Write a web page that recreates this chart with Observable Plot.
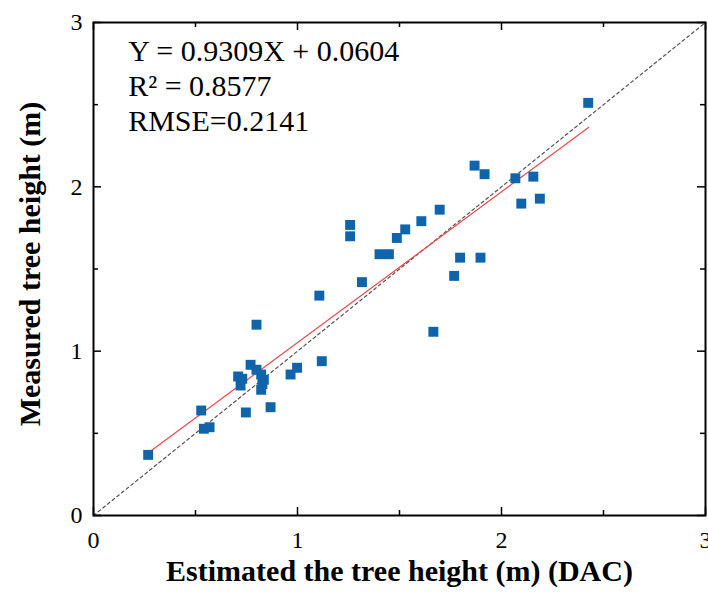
<!DOCTYPE html>
<html>
<head>
<meta charset="utf-8">
<script src="https://cdn.jsdelivr.net/npm/d3@7"></script>
<script src="https://cdn.jsdelivr.net/npm/@observablehq/plot@0.6"></script>
<style>
  html, body { margin: 0; padding: 0; background: #fff; }
  #chart svg { display: block; overflow: visible; }
</style>
</head>
<body>
<div id="chart"></div>
<script>
// Estimated (DAC) tree height, m
const estimated = [0.268, 0.528, 0.541, 0.569, 0.747, 0.868, 0.799, 0.770, 0.709, 0.729, 0.721, 0.799, 0.822, 0.835, 0.822, 0.828, 0.966, 0.998, 1.119, 1.107, 1.258, 1.258, 1.316, 1.402, 1.448, 1.487, 1.528, 1.607, 1.697, 1.666, 1.768, 1.797, 1.897, 1.868, 1.917, 2.068, 2.156, 2.097, 2.188, 2.425];
// Measured tree height, m
const measured  = [0.369, 0.639, 0.528, 0.537, 0.627, 0.659, 1.161, 0.917, 0.846, 0.832, 0.791, 0.887, 0.858, 0.826, 0.765, 0.800, 0.858, 0.899, 0.939, 1.338, 1.768, 1.699, 1.420, 1.590, 1.590, 1.689, 1.741, 1.791, 1.861, 1.118, 1.458, 1.569, 1.569, 2.129, 2.077, 2.052, 2.062, 1.898, 1.928, 2.511];
// Fitted line endpoints as drawn
const fitX = [0.279, 2.428];
const fitY = [0.391, 2.362];
// 1:1 reference line
const oneToOne = [0, 3];
const majorTicks = [0, 1, 2, 3];
const minorTicks = [0.5, 1.5, 2.5];
const statsLines = ["Y = 0.9309X + 0.0604", "R\u00B2 = 0.8577", "RMSE=0.2141"];
const statsY = [2.763, 2.550, 2.337];
const xTitle = "Estimated the tree height (m) (DAC)";
const yTitle = "Measured tree height (m)";

const points = estimated.map((x, i) => ({x, y: measured[i]}));
const fitLine = fitX.map((x, i) => ({x, y: fitY[i]}));
const diag = oneToOne.map(v => ({x: v, y: v}));
const stats = statsLines.map((t, i) => ({t, y: statsY[i]}));

const W = 708, H = 595;
const mL = 93, mR = 3, mT = 22, mB = 80;
const plotW = W - mL - mR, plotH = H - mT - mB;
const major = 8, minor = 5;

const chart = Plot.plot({
  width: W,
  height: H,
  marginLeft: mL,
  marginRight: mR,
  marginTop: mT,
  marginBottom: mB,
  style: {fontFamily: "'Liberation Serif', 'Times New Roman', serif", fontSize: "24px", color: "#000", background: "#fff"},
  x: {domain: [0, 3]},
  y: {domain: [0, 3]},
  marks: [
    Plot.line(diag, {x: "x", y: "y", stroke: "#555", strokeWidth: 1.2, strokeDasharray: "3,3"}),
    Plot.line(fitLine, {x: "x", y: "y", stroke: "#f04848", strokeWidth: 1.2}),
    Plot.dot(points, {x: "x", y: "y", symbol: "square", r: 5.6, fill: "#0f64ab", stroke: "none"}),
    // inward ticks, all four sides
    Plot.tickX(majorTicks, {x: d => d, insetTop: plotH - major, stroke: "#000", strokeWidth: 1.5}),
    Plot.tickX(minorTicks, {x: d => d, insetTop: plotH - minor, stroke: "#000", strokeWidth: 1.5}),
    Plot.tickX(majorTicks, {x: d => d, insetBottom: plotH - major, stroke: "#000", strokeWidth: 1.5}),
    Plot.tickX(minorTicks, {x: d => d, insetBottom: plotH - minor, stroke: "#000", strokeWidth: 1.5}),
    Plot.tickY(majorTicks, {y: d => d, insetRight: plotW - major, stroke: "#000", strokeWidth: 1.5}),
    Plot.tickY(minorTicks, {y: d => d, insetRight: plotW - minor, stroke: "#000", strokeWidth: 1.5}),
    Plot.tickY(majorTicks, {y: d => d, insetLeft: plotW - major, stroke: "#000", strokeWidth: 1.5}),
    Plot.tickY(minorTicks, {y: d => d, insetLeft: plotW - minor, stroke: "#000", strokeWidth: 1.5}),
    Plot.axisX({ticks: majorTicks, tickSize: 0, tickPadding: 15, label: null, tickFormat: d3.format("d")}),
    Plot.axisY({ticks: majorTicks, tickSize: 0, tickPadding: 11, label: null, tickFormat: d3.format("d")}),
    Plot.frame({stroke: "#000", strokeWidth: 2}),
    Plot.text(stats, {x: () => 0.17, y: "y", text: "t", textAnchor: "start", lineAnchor: "bottom", fontSize: 30, fill: "#000"}),
    Plot.text([xTitle], {text: d => d, frameAnchor: "bottom", dy: 65, lineAnchor: "bottom", textAnchor: "middle", fontSize: 30, fontWeight: "bold", fill: "#000"}),
    Plot.text([yTitle], {text: d => d, frameAnchor: "left", dx: -63, dy: -5, rotate: -90, textAnchor: "middle", lineAnchor: "middle", fontSize: 30, fontWeight: "bold", fill: "#000"})
  ]
});
document.getElementById("chart").appendChild(chart);
</script>
</body>
</html>
